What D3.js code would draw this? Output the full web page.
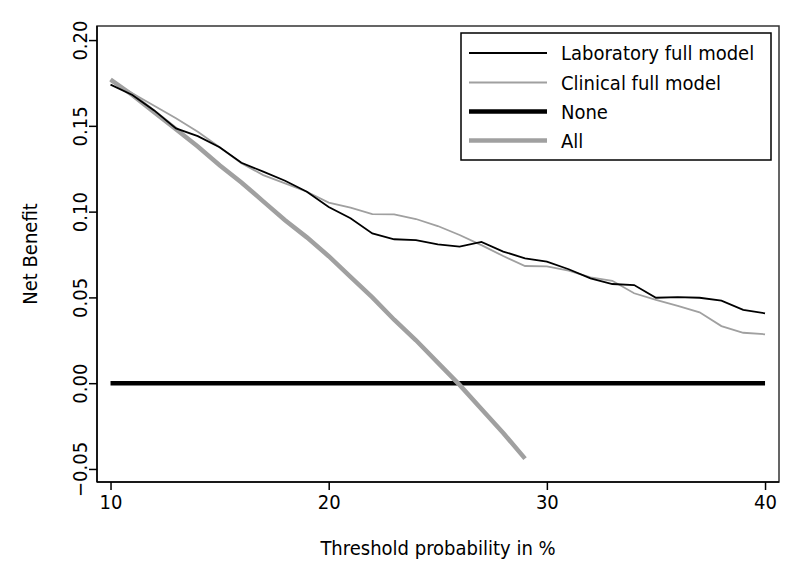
<!DOCTYPE html>
<html>
<head>
<meta charset="utf-8">
<script src="https://cdn.jsdelivr.net/npm/d3@7"></script>
<style>
  html, body { margin: 0; padding: 0; background: #fff; }
  svg text { font-family: "DejaVu Sans Condensed", "DejaVu Sans", sans-serif; font-stretch: condensed; fill: #000; }
</style>
</head>
<body>
<svg id="chart" width="794" height="574"></svg>
<script>
const thresholds = d3.range(10, 41); // 10..40
const labModel = [0.174, 0.168, 0.159, 0.1485, 0.144, 0.1375, 0.1285, 0.1233, 0.118, 0.1116,
  0.1027, 0.0961, 0.0873, 0.0839, 0.0834, 0.0809, 0.0796, 0.0823, 0.0767, 0.0728,
  0.0708, 0.0664, 0.0611, 0.0578, 0.0572, 0.0498, 0.0502, 0.0498, 0.0481, 0.0427, 0.0407];
const clinicalModel = [0.176, 0.169, 0.1617, 0.1544, 0.1466, 0.1375, 0.1282, 0.1213, 0.1165, 0.1116,
  0.1053, 0.1023, 0.0986, 0.0984, 0.0957, 0.0916, 0.0864, 0.0805, 0.0741, 0.0683,
  0.0681, 0.0656, 0.0617, 0.0597, 0.0524, 0.0485, 0.045, 0.0413, 0.0333, 0.0294, 0.0285];
const allThresholds = d3.range(10, 30); // 10..29
const treatAll = [0.177, 0.168, 0.158, 0.148, 0.138, 0.127, 0.117, 0.106, 0.095, 0.085,
  0.074, 0.062, 0.050, 0.037, 0.025, 0.012, -0.001, -0.015, -0.029, -0.044];
const treatNone = thresholds.map(() => 0);
const xTicks = [10, 20, 30, 40];
const yTicks = [-0.05, 0, 0.05, 0.10, 0.15, 0.20];
const legendLabels = ["Laboratory full model", "Clinical full model", "None", "All"];

const pLeft = 97, pRight = 779, pTop = 26, pBottom = 482;
const svg = d3.select("#chart");
const x = d3.scaleLinear().domain([9.38, 40.64]).range([pLeft, pRight]);
const y = d3.scaleLinear().domain([-0.0576, 0.2082]).range([pBottom, pTop]);

const gray = "#a0a0a0";
const line = d3.line().x(d => x(d[0])).y(d => y(d[1]));

// series
svg.append("path").datum(thresholds.map((t, i) => [t, treatNone[i]]))
  .attr("d", line).attr("fill", "none").attr("stroke", "#000").attr("stroke-width", 4.5);
svg.append("path").datum(allThresholds.map((t, i) => [t, treatAll[i]]))
  .attr("d", line).attr("fill", "none").attr("stroke", gray).attr("stroke-width", 4.5);
svg.append("path").datum(thresholds.map((t, i) => [t, clinicalModel[i]]))
  .attr("d", line).attr("fill", "none").attr("stroke", gray).attr("stroke-width", 1.8);
svg.append("path").datum(thresholds.map((t, i) => [t, labModel[i]]))
  .attr("d", line).attr("fill", "none").attr("stroke", "#000").attr("stroke-width", 1.8);

// box
svg.append("rect").attr("x", pLeft).attr("y", pTop).attr("width", pRight - pLeft).attr("height", pBottom - pTop)
  .attr("fill", "none").attr("stroke", "#333").attr("stroke-width", 1.5);

// axes
const fmt = d3.format(".2f");
const yAxis = svg.append("g").attr("transform", `translate(${pLeft},0)`)
  .call(d3.axisLeft(y).tickValues(yTicks).tickFormat(fmt).tickSize(8).tickSizeOuter(0));
yAxis.select(".domain").remove();
yAxis.selectAll("line").attr("stroke", "#000").attr("stroke-width", 1.5);
yAxis.selectAll("text").attr("transform", "rotate(-90)").attr("x", 0).attr("y", -10).attr("dy", 0)
  .style("text-anchor", "middle").style("font-size", "20px");

const xAxis = svg.append("g").attr("transform", `translate(0,${pBottom})`)
  .call(d3.axisBottom(x).tickValues(xTicks).tickFormat(d3.format("d")).tickSize(8).tickSizeOuter(0));
xAxis.select(".domain").remove();
xAxis.selectAll("line").attr("stroke", "#000").attr("stroke-width", 1.5);
xAxis.selectAll("text").attr("y", 27).attr("dy", 0).style("font-size", "20px");

// left/bottom axis lines darker
svg.append("line").attr("x1", pLeft).attr("x2", pLeft).attr("y1", pTop).attr("y2", pBottom)
  .attr("stroke", "#000").attr("stroke-width", 1.5);
svg.append("line").attr("x1", pLeft).attr("x2", pRight).attr("y1", pBottom).attr("y2", pBottom)
  .attr("stroke", "#000").attr("stroke-width", 1.5);

// titles
svg.append("text").attr("x", (pLeft + pRight) / 2).attr("y", 555).attr("text-anchor", "middle")
  .style("font-size", "20px").text("Threshold probability in %");
svg.append("text").attr("transform", `translate(37,${(pTop + pBottom) / 2}) rotate(-90)`)
  .attr("text-anchor", "middle").style("font-size", "20px").text("Net Benefit");

// legend
const lg = svg.append("g");
lg.append("rect").attr("x", 461).attr("y", 33).attr("width", 310).attr("height", 127)
  .attr("fill", "#fff").attr("stroke", "#000").attr("stroke-width", 1.5);
const legendStyles = [
  { color: "#000", width: 1.8 },
  { color: gray, width: 1.8 },
  { color: "#000", width: 4.5 },
  { color: gray, width: 4.5 }
];
const rowY = [53, 82.5, 111.5, 140.5];
legendLabels.forEach((lab, i) => {
  lg.append("line").attr("x1", 469).attr("x2", 547).attr("y1", rowY[i]).attr("y2", rowY[i])
    .attr("stroke", legendStyles[i].color).attr("stroke-width", legendStyles[i].width);
  lg.append("text").attr("x", 561).attr("y", rowY[i]).attr("dy", "0.36em")
    .style("font-size", "20px").text(lab);
});
</script>
</body>
</html>
